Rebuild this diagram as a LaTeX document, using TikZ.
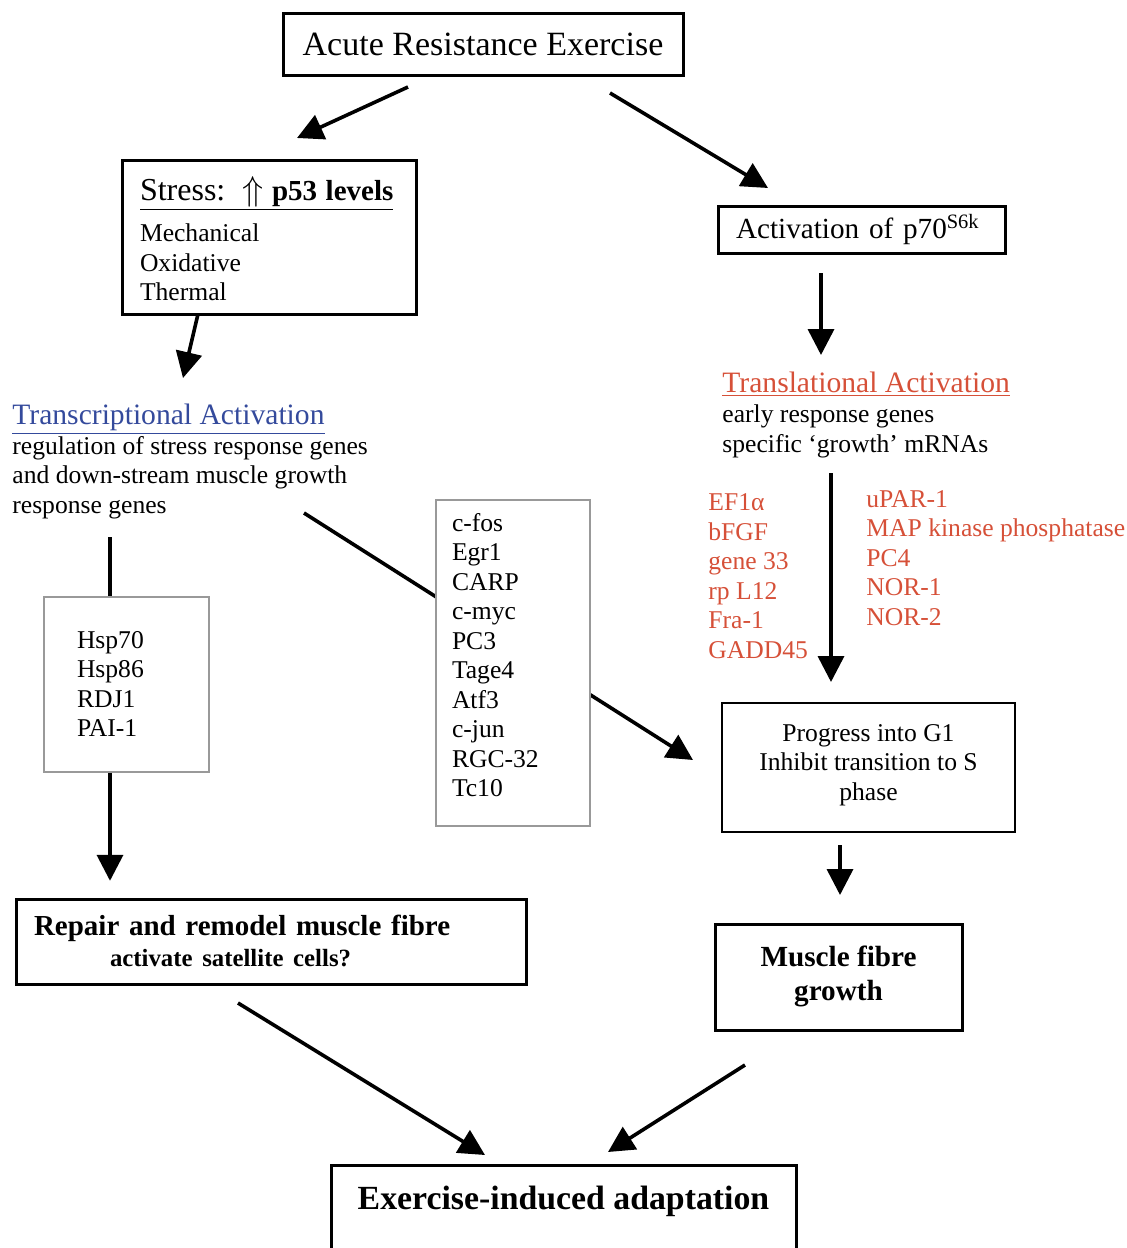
\documentclass[tikz,border=0pt]{standalone}
\usepackage{fontspec}
\setmainfont{Liberation Serif}
\usetikzlibrary{arrows.meta,positioning}
\definecolor{transblue}{RGB}{52,74,156}
\definecolor{transred}{RGB}{214,80,56}
\newcommand\genefont{\fontsize{12.8}{14.75}\selectfont}
\newcommand\headfont{\fontsize{14.8}{17}\selectfont}
\tikzset{
    %Define standard arrow tip
    >={Triangle[length=13pt,width=13pt]},
    %Define style for boxes
    heavybox/.style={
           rectangle,
           draw=black, line width=1.5pt,
           fill=white,
           inner sep=0pt,
           font=\genefont},
    lightbox/.style={
           rectangle,
           draw=black!40, line width=.8pt,
           fill=white,
           inner ysep=0pt,
           align=left,
           font=\genefont},
    freetext/.style={
           anchor=base west,
           inner sep=0pt,
           align=left,
           font=\genefont},
    % Define arrow style
    pil/.style={
           ->,
           line width=1.8pt}
}

\begin{document}
\begin{tikzpicture}[x=0.5pt,y=-0.5pt]
\useasboundingbox (0,0) rectangle (1127,1248);

% arrow ends
\coordinate (a1s) at (408,87);   \coordinate (a1e) at (297,138);
\coordinate (a2s) at (610,93);   \coordinate (a2e) at (768,188);
\coordinate (a3s) at (198,314);  \coordinate (a3e) at (183,378);
\coordinate (a4s) at (821,273);  \coordinate (a4e) at (821,355);
\coordinate (a5s) at (831,473);  \coordinate (a5e) at (831,682);
\coordinate (a6s) at (110,537);
\coordinate (a7s) at (304,513);  \coordinate (a7e) at (693,760);
\coordinate (a8s) at (840,845);  \coordinate (a8e) at (840,895);
\coordinate (a9s) at (238,1003); \coordinate (a9e) at (485,1155);
\coordinate (a10s) at (745,1065); \coordinate (a10e) at (608,1152);

% long arrow behind the gene box
\draw[pil] (a7s) -- (a7e);

\node[heavybox, minimum width=200pt, minimum height=31pt, font=\fontsize{17}{20}\selectfont](acute) at (483,44){Acute Resistance Exercise};
\node[heavybox, minimum width=147pt, inner xsep=9pt, text width=129pt, text height=20pt, text depth=57pt, align=left](stress) at (269,237)
  {\underline{{\fontsize{16}{19}\selectfont Stress:\ \ $\Uparrow$} {\fontsize{14.5}{17}\selectfont\bfseries p53 levels}}\\[6pt]
   Mechanical\\Oxidative\\Thermal};
\node[heavybox, minimum width=143.5pt, minimum height=23.5pt, inner xsep=9pt, text width=125.5pt, align=left, font=\fontsize{14.6}{17}\selectfont](p70) at (861.5,229.5){Activation of p70\textsuperscript{S6k}};

\node[freetext, font=\headfont, text=transblue](transc) at (12,424){\underline{Transcriptional Activation}};
\node[freetext](transcbody) at (12,513){regulation of stress response genes\\and down-stream muscle growth\\response genes};

\node[freetext, font=\headfont, text=transred](transl) at (722,392){\underline{Translational Activation}};
\node[freetext](translbody) at (722,452){early response genes\\specific `growth' mRNAs};

\node[freetext, text=transred](redleft) at (708,658){EF1α\\bFGF\\gene 33\\rp L12\\Fra-1\\GADD45};
\node[freetext, text=transred](redright) at (866,625){uPAR-1\\MAP kinase phosphatase\\PC4\\NOR-1\\NOR-2};

\node[lightbox, minimum width=82.5pt, inner xsep=16.5pt, text width=49.5pt, text height=25.5pt, text depth=62pt](hsp) at (126.5,684.5){Hsp70\\Hsp86\\RDJ1\\PAI-1};
\node[lightbox, minimum width=77pt, inner xsep=8pt, text width=61pt, text height=15.5pt, text depth=147.5pt](early) at (513,663){c-fos\\Egr1\\CARP\\c-myc\\PC3\\Tage4\\Atf3\\c-jun\\RGC-32\\Tc10};

\node[heavybox, line width=1pt, minimum width=146.5pt, text height=48.5pt, text depth=16pt, align=center](g1) at (868.5,767.5){Progress into G1\\Inhibit transition to S\\phase};

\node[heavybox, minimum width=255pt, inner xsep=9pt, text width=237pt, text height=18pt, text depth=24.5pt, align=left, font=\fontsize{14.5}{15.5}\selectfont\bfseries](repair) at (271,941.5)
  {Repair and remodel muscle fibre\\\hspace*{38pt}{\fontsize{12.4}{15}\selectfont activate satellite cells?}};
\node[heavybox, minimum width=123.5pt, text height=38pt, text depth=15pt, align=center, font=\fontsize{14.6}{17}\selectfont\bfseries](growth) at (838.5,977){Muscle fibre\\growth};
\node[heavybox, minimum width=232.5pt, text height=22pt, text depth=20.5pt, font=\fontsize{16.9}{20}\selectfont\bfseries](adapt) at (563.5,1208){Exercise-induced adaptation};

\draw[pil] (a1s) -- (a1e);
\draw[pil] (a2s) -- (a2e);
\draw[pil] (a3s) -- (a3e);
\draw[pil] (a4s) -- (a4e);
\draw[pil] (a5s) -- (a5e);
\draw[line width=1.8pt] (a6s) -- (a6s |- hsp.north);
\draw[pil] (a6s |- hsp.south) -- ++(0,108);
\draw[pil] (a8s) -- (a8e);
\draw[pil] (a9s) -- (a9e);
\draw[pil] (a10s) -- (a10e);
\end{tikzpicture}
\end{document}
